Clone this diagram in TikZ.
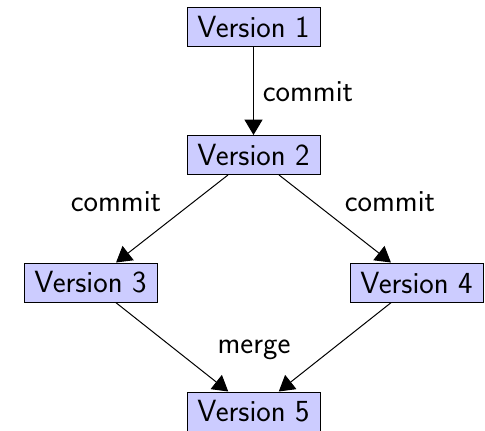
\documentclass[tikz,border=0pt]{standalone}
\usetikzlibrary{arrows.meta}
\begin{document}
\begin{tikzpicture}[x=0.75pt,y=-0.75pt,
  font=\sffamily\fontsize{23}{27}\selectfont,
  ver/.style={draw=black, fill=blue!20, line width=0.75pt, minimum width=99.75pt, minimum height=29.25pt, inner sep=0pt},
  arr/.style={line width=0.75pt, -{Triangle[width=13.5pt,length=11.5pt]}},
  lab/.style={inner sep=0pt}]
\useasboundingbox (0,0) rectangle (485,430);
\node[ver] (v1) at (253.5,27) {Version 1};
\node[ver] (v2) at (253.5,155) {Version 2};
\node[ver] (v3) at (90.5,282.5) {Version 3};
\node[ver] (v4) at (416.5,282.5) {Version 4};
\node[ver] (v5) at (253.5,411.5) {Version 5};
\draw[arr] (v1) -- (v2);
\draw[arr] (v2) -- (v3);
\draw[arr] (v2) -- (v4);
\draw[arr] (v3) -- (v5);
\draw[arr] (v4) -- (v5);
\node[lab] (l1) at (308,92) {commit};
\node[lab] (l2) at (116,202) {commit};
\node[lab] (l3) at (390,202) {commit};
\node[lab] (l4) at (254,350) {merge};
\end{tikzpicture}
\end{document}
